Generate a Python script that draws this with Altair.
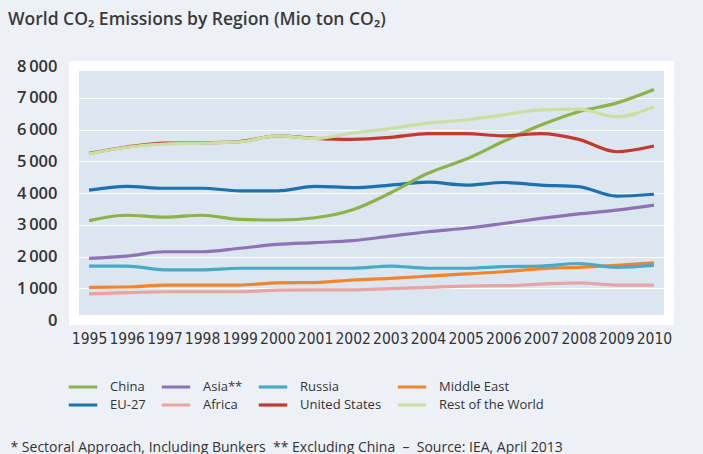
import altair as alt
import pandas as pd

years = list(range(1995, 2011))

china = [3130, 3300, 3240, 3300, 3170, 3150, 3220, 3470, 4000, 4620, 5060, 5620, 6140, 6560, 6830, 7260]
asia = [1940, 2010, 2150, 2150, 2260, 2380, 2440, 2500, 2640, 2780, 2890, 3040, 3200, 3340, 3460, 3620]
russia = [1700, 1700, 1580, 1580, 1630, 1630, 1630, 1630, 1700, 1630, 1630, 1680, 1700, 1780, 1660, 1720]
middle_east = [1030, 1040, 1100, 1100, 1100, 1170, 1180, 1260, 1310, 1380, 1450, 1520, 1620, 1660, 1720, 1800]
eu27 = [4090, 4210, 4150, 4150, 4070, 4070, 4210, 4170, 4250, 4340, 4250, 4330, 4250, 4200, 3900, 3960]
africa = [820, 860, 890, 890, 890, 940, 950, 950, 990, 1030, 1070, 1080, 1130, 1170, 1100, 1100]
united_states = [5250, 5450, 5570, 5580, 5620, 5800, 5720, 5690, 5750, 5870, 5870, 5800, 5870, 5690, 5300, 5480]
rest_of_world = [5230, 5440, 5540, 5570, 5610, 5800, 5720, 5890, 6030, 6200, 6300, 6460, 6620, 6640, 6400, 6720]

legend_order = ["China", "Asia**", "Russia", "Middle East",
                "EU-27", "Africa", "United States", "Rest of the World"]
colors = ["#8db24a", "#8e72b4", "#48aac6", "#f2842b",
          "#1c72ad", "#e8a3a3", "#c23a2d", "#c9e0a0"]
widths = [3.2, 3.2, 3.2, 3.6, 5, 3.2, 4.6, 3.2]

# drawing order (first drawn at the bottom)
series = [
    ("Africa", africa),
    ("Middle East", middle_east),
    ("Russia", russia),
    ("Asia**", asia),
    ("EU-27", eu27),
    ("China", china),
    ("United States", united_states),
    ("Rest of the World", rest_of_world),
]

rows = []
for name, vals in series:
    for y, v in zip(years, vals):
        rows.append({"Year": y, "Region": name, "Value": v})
df = pd.DataFrame(rows)

THIN = "\u2009"
NB = "\u00a0"
footnote = ("* Sectoral Approach, Including Bunkers " + NB + "** Excluding China "
            + NB + "\u2013" + NB + " Source: IEA, April 2013")

chart = alt.Chart(df).mark_line(interpolate="monotone").encode(
    x=alt.X("Year:O", scale=alt.Scale(type="point", padding=0.4),
            axis=alt.Axis(title=footnote, labelAngle=0, ticks=False, domain=False,
                          grid=False, labelPadding=11, labelFontSize=15.5,
                          labelFont="Liberation Sans Narrow, DejaVu Sans Condensed, Roboto Condensed, sans-serif",
                          labelColor="#333333",
                          titleX=-64, titleY=131, titleAlign="left", titleAnchor="start",
                          titleBaseline="alphabetic", titleFontSize=14,
                          titleFont="Open Sans",
                          titleFontWeight="normal", titleColor="#333333")),
    y=alt.Y("Value:Q", scale=alt.Scale(domain=[0, 8000], nice=False),
            axis=alt.Axis(title=None, values=[0, 1000, 2000, 3000, 4000, 5000, 6000, 7000, 8000],
                          labelExpr="replace(format(datum.value, ','), ',', '" + THIN + "')",
                          ticks=False, domain=False, labelPadding=17, labelFontSize=16.5,
                          labelFont="Open Sans", labelFontWeight=600, labelColor="#333333",
                          gridColor="white", gridWidth=1, gridOpacity=0.9)),
    color=alt.Color("Region:N", scale=alt.Scale(domain=legend_order, range=colors),
                    legend=alt.Legend(title=None, orient="none", legendX=-7, legendY=313,
                                      columns=4, symbolType="stroke", symbolSize=810,
                                      symbolStrokeWidth=4, clipHeight=16,
                                      labelOffset=11, columnPadding=14, rowPadding=2,
                                      labelFontSize=13, labelFont="Open Sans",
                                      labelColor="#333333", direction="horizontal")),
    strokeWidth=alt.StrokeWidth("Region:N", scale=alt.Scale(domain=legend_order, range=widths),
                                legend=None),
).properties(
    width=595,
    height=254,
    autosize=alt.AutoSizeParams(type="none"),
    padding={"left": 74, "top": 66, "right": 34, "bottom": 134},
    background="#edf1f7",
    title=alt.TitleParams(
        text="World CO\u2082 Emissions by Region (Mio ton CO\u2082)",
        anchor="start", frame="group", dx=-66, offset=30,
        fontSize=17.5, font="Open Sans", fontWeight=600, color="#3a3a3a",
    ),
).configure_view(
    fill="#dce6f0", stroke="white", strokeWidth=10,
)

chart.save("out.html", embed_options={"renderer": "svg", "actions": False})
